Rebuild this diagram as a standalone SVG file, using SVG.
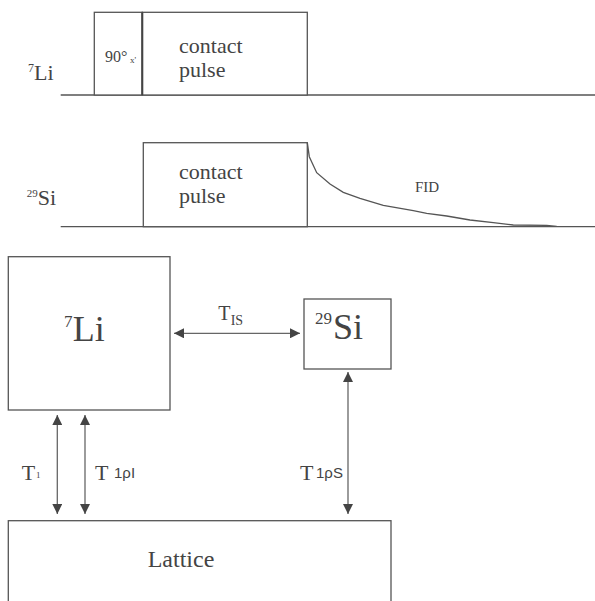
<svg xmlns="http://www.w3.org/2000/svg" width="595" height="601" viewBox="0 0 595 601">
<style>
.ln{fill:none;stroke:#555;stroke-width:1.3}
.box{fill:#fff;stroke:#555;stroke-width:1.3}
.ar{fill:none;stroke:#666;stroke-width:1.3}
text{font-family:"Liberation Serif","Times New Roman",serif;fill:#444}
.sans{font-family:"Liberation Sans",Arial,sans-serif}
</style>
<defs>
<marker id="ah" viewBox="0 0 10 10" refX="10" refY="5" markerWidth="10" markerHeight="10" markerUnits="userSpaceOnUse" orient="auto-start-reverse">
<path d="M0,0 L10,5 L0,10 Z" fill="#444"/>
</marker>
</defs>
<rect width="595" height="601" fill="#fff"/>

<g id="li-sequence">
<line class="ln" x1="60.7" y1="95" x2="595" y2="95"/>
<rect id="pulse90" class="box" x="94.3" y="12.3" width="48" height="82.7"/>
<rect id="contact-li" class="box" x="142.3" y="12.3" width="165" height="82.7"/>
<line x1="142.3" y1="12.3" x2="142.3" y2="95" stroke="#444" stroke-width="2"/>
<text x="105" y="61.7" font-size="16">90°</text>
<text x="130" y="63.3" font-size="9">x'</text>
<text x="179" y="53.3" font-size="22">contact</text>
<text x="179" y="77" font-size="22">pulse</text>
<text x="28" y="72" font-size="12">7</text>
<text x="34" y="80" font-size="22">Li</text>
</g>

<g id="si-sequence">
<line class="ln" x1="60.7" y1="226.7" x2="595" y2="226.7"/>
<rect id="contact-si" class="box" x="143.3" y="142.7" width="164" height="84"/>
<path class="ln" d="M307.3,142.7 L309.3,156.7 L316.7,172.7 L330,184 L343.3,192.3 L360,198.3 L383.3,205.3 L413.3,210.7 L426.7,213.3 L446.7,216 L470,220 L493.3,222.7 L513.3,225 L546.7,225.3 L556.7,226.3"/>
<text x="179" y="179" font-size="22">contact</text>
<text x="179" y="202.7" font-size="22">pulse</text>
<text x="415" y="191.7" font-size="15">FID</text>
<text x="26.7" y="197" font-size="11">29</text>
<text x="37.7" y="205" font-size="22">Si</text>
</g>

<g id="node-li">
<rect class="box" x="8.3" y="256.7" width="161.7" height="153.3"/>
<text x="64" y="327" font-size="17">7</text>
<text x="72.7" y="340.7" font-size="36">Li</text>
</g>

<g id="node-si">
<rect class="box" x="304" y="299" width="87" height="70"/>
<text x="315" y="324" font-size="17">29</text>
<text x="333" y="339" font-size="36">Si</text>
</g>

<g id="node-lattice">
<rect class="box" x="8.3" y="520.7" width="382.7" height="90"/>
<text x="147.7" y="567" font-size="24">Lattice</text>
</g>

<g id="connectors">
<line class="ar" x1="174" y1="333.3" x2="300" y2="333.3" marker-start="url(#ah)" marker-end="url(#ah)"/>
<line class="ar" x1="57.3" y1="415" x2="57.3" y2="514" marker-start="url(#ah)" marker-end="url(#ah)"/>
<line class="ar" x1="85" y1="415" x2="85" y2="514" marker-start="url(#ah)" marker-end="url(#ah)"/>
<line class="ar" x1="348" y1="372" x2="348" y2="514" marker-start="url(#ah)" marker-end="url(#ah)"/>
</g>

<g id="labels">
<text x="218.3" y="320" font-size="20">T</text>
<text x="230.7" y="325" font-size="14">IS</text>
<text x="21.7" y="480" font-size="22">T</text>
<text x="36" y="478" font-size="9">1</text>
<text x="95" y="480" font-size="22">T</text>
<text class="sans" x="114" y="478" font-size="15">1ρI</text>
<text x="300" y="480" font-size="22">T</text>
<text class="sans" x="316" y="478" font-size="15">1ρS</text>
</g>
</svg>
